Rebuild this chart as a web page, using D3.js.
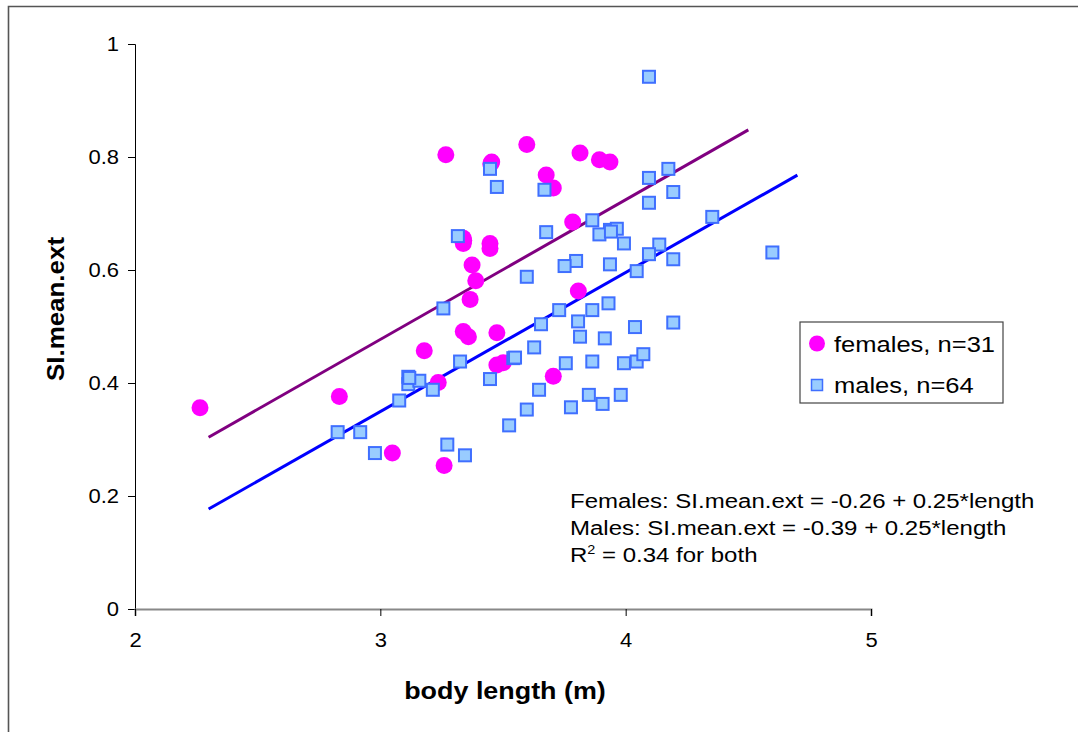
<!DOCTYPE html>
<html>
<head>
<meta charset="utf-8">
<script src="https://cdn.jsdelivr.net/npm/d3@7"></script>
<style>
  html, body { margin: 0; padding: 0; background: #fff; }
  svg { display: block; font-family: "Liberation Sans", Arial, sans-serif; }
</style>
</head>
<body>
<svg id="chart" width="1078" height="732"></svg>
<script>
// ---------------- data ----------------
const femaleLength = [2.265, 2.833, 3.049, 3.179, 3.236, 3.260, 3.267, 3.338, 3.338, 3.338,
  3.359, 3.366, 3.374, 3.389, 3.447, 3.447, 3.454, 3.475, 3.475, 3.501,
  3.597, 3.676, 3.705, 3.705, 3.784, 3.807, 3.814, 3.893, 3.936, 3.340, 3.450];
const femaleSI = [0.356, 0.376, 0.276, 0.457, 0.401, 0.254, 0.804, 0.656, 0.647, 0.491,
  0.482, 0.548, 0.609, 0.581, 0.647, 0.638, 0.791, 0.489, 0.432, 0.436,
  0.822, 0.768, 0.745, 0.412, 0.685, 0.563, 0.807, 0.795, 0.791, 0.652, 0.788];

const maleLength = [4.095, 3.447, 3.475, 3.669, 4.095, 4.174, 4.194, 4.095, 4.353, 3.864,
  3.676, 3.936, 3.964, 3.893, 3.993, 3.316, 4.137, 4.095, 4.194, 4.598,
  3.798, 3.751, 3.936, 4.045, 3.597, 3.930, 3.864, 3.729, 3.257, 3.655,
  3.806, 4.038, 4.194, 3.814, 3.915, 3.627, 3.325, 3.542, 3.549, 3.756,
  3.864, 3.993, 4.045, 4.072, 3.447, 3.114, 3.114, 3.159, 3.214, 3.077,
  3.647, 3.850, 3.980, 3.906, 3.777, 3.597, 3.525, 2.826, 2.918, 2.978,
  3.273, 3.345, 3.118, 3.940];
const maleSI = [0.942, 0.779, 0.747, 0.742, 0.763, 0.779, 0.738, 0.719, 0.694, 0.688,
  0.667, 0.671, 0.673, 0.663, 0.647, 0.660, 0.645, 0.628, 0.619, 0.631,
  0.616, 0.607, 0.610, 0.598, 0.588, 0.541, 0.529, 0.529, 0.532, 0.504,
  0.509, 0.499, 0.507, 0.482, 0.479, 0.463, 0.438, 0.444, 0.445, 0.435,
  0.438, 0.435, 0.438, 0.451, 0.407, 0.411, 0.398, 0.404, 0.388, 0.369,
  0.388, 0.379, 0.379, 0.363, 0.357, 0.353, 0.325, 0.313, 0.313, 0.276,
  0.291, 0.272, 0.409, 0.668];

// trend lines: end points
const femaleFitX = [2.30, 4.50];
const femaleFitY = [0.304, 0.848];
const maleFitX = [2.30, 4.70];
const maleFitY = [0.177, 0.768];

const xTicks = [2, 3, 4, 5];
const xTickLabels = ["2", "3", "4", "5"];
const yTicks = [0, 0.2, 0.4, 0.6, 0.8, 1];
const yTickLabels = ["0", "0.2", "0.4", "0.6", "0.8", "1"];

const legendLabels = ["females, n=31", "males, n=64"];
const noteLines = ["Females: SI.mean.ext = -0.26 + 0.25*length",
                   "Males: SI.mean.ext = -0.39 + 0.25*length"];
const xTitle = "body length (m)";
const yTitle = "SI.mean.ext";

// ---------------- drawing ----------------
const svg = d3.select("#chart");
const STRETCH = 1.2;
function stretch(sel, k) {
  sel.each(function () {
    const w = this.getComputedTextLength();
    this.setAttribute("textLength", w * k);
    this.setAttribute("lengthAdjust", "spacingAndGlyphs");
  });
}

// outer frame
svg.append("path")
  .attr("d", "M8.5,740 V6.5 H1090")
  .attr("fill", "none").attr("stroke", "#555").attr("stroke-width", 1.6);

const x = d3.scaleLinear().domain([2, 5]).range([135, 871]);
const y = d3.scaleLinear().domain([0, 1]).range([609, 44]);

// y axis
const gy = svg.append("g").attr("transform", "translate(135,0)")
  .call(d3.axisLeft(y).tickValues(yTicks).tickSize(7).tickPadding(9)
    .tickFormat((d, i) => yTickLabels[i]));
gy.select(".domain").attr("stroke", "#000").attr("stroke-width", 1);
gy.selectAll(".tick line").attr("stroke", "#000");
gy.selectAll(".tick text").attr("font-size", 20).attr("fill", "#000")
  .attr("font-family", "Liberation Sans, Arial, sans-serif").call(stretch, 1.1);

// x axis
const gx = svg.append("g").attr("transform", "translate(0,609)")
  .call(d3.axisBottom(x).tickValues(xTicks).tickSize(7).tickPadding(17)
    .tickFormat((d, i) => xTickLabels[i]));
gx.select(".domain").attr("stroke", "#888").attr("stroke-width", 2);
gx.selectAll(".tick line").attr("stroke", "#000");
gx.selectAll(".tick text").attr("font-size", 20).attr("fill", "#000")
  .attr("font-family", "Liberation Sans, Arial, sans-serif").call(stretch, 1.1);

// axis titles
svg.append("text").attr("x", 505).attr("y", 699).attr("text-anchor", "middle")
  .attr("font-size", 24).attr("font-weight", "bold").text(xTitle).call(stretch, 1.12);
svg.append("text").attr("transform", "translate(64,309) rotate(-90)")
  .attr("text-anchor", "middle").attr("font-size", 24).attr("font-weight", "bold")
  .text(yTitle).call(stretch, 1.08);

// trend lines
const line = d3.line().x(d => x(d[0])).y(d => y(d[1]));
svg.append("path").datum(d3.zip(femaleFitX, femaleFitY)).attr("d", line)
  .attr("fill", "none").attr("stroke", "#800080").attr("stroke-width", 3);
svg.append("path").datum(d3.zip(maleFitX, maleFitY)).attr("d", line)
  .attr("fill", "none").attr("stroke", "#0000FF").attr("stroke-width", 3);

// females
svg.append("g").selectAll("circle").data(d3.zip(femaleLength, femaleSI)).join("circle")
  .attr("cx", d => x(d[0])).attr("cy", d => y(d[1])).attr("r", 8.5)
  .attr("fill", "#FF00FF");

// males
const sq = 12;
svg.append("g").selectAll("rect").data(d3.zip(maleLength, maleSI)).join("rect")
  .attr("x", d => x(d[0]) - sq / 2).attr("y", d => y(d[1]) - sq / 2)
  .attr("width", sq).attr("height", sq)
  .attr("fill", "#99CCFF").attr("stroke", "#3F6FFF").attr("stroke-width", 2);

// legend
const lg = svg.append("g");
lg.append("rect").attr("x", 800).attr("y", 322).attr("width", 203).attr("height", 81)
  .attr("fill", "#fff").attr("stroke", "#444").attr("stroke-width", 1.2);
lg.append("circle").attr("cx", 817).attr("cy", 343.5).attr("r", 8).attr("fill", "#FF00FF");
lg.append("rect").attr("x", 811.5).attr("y", 379.5).attr("width", 11).attr("height", 11)
  .attr("fill", "#99CCFF").attr("stroke", "#3F6FFF").attr("stroke-width", 1.5);
lg.selectAll("text.leg").data(legendLabels).join("text").attr("class", "leg")
  .attr("x", 834).attr("y", (d, i) => 352 + i * 41)
  .attr("font-size", 22).text(d => d).call(stretch, 1.16);

// annotation
const note = svg.append("g");
note.selectAll("text.note").data(noteLines).join("text").attr("class", "note")
  .attr("x", 570).attr("y", (d, i) => 508 + i * 27)
  .attr("font-size", 20).text(d => d).call(stretch, STRETCH);
const r2 = note.append("text").attr("x", 570).attr("y", 562).attr("font-size", 20);
r2.append("tspan").text("R");
r2.append("tspan").attr("dy", -8).attr("font-size", 12).text("2");
r2.append("tspan").attr("dy", 8).text(" = 0.34 for both");
r2.call(stretch, STRETCH);
</script>
</body>
</html>
